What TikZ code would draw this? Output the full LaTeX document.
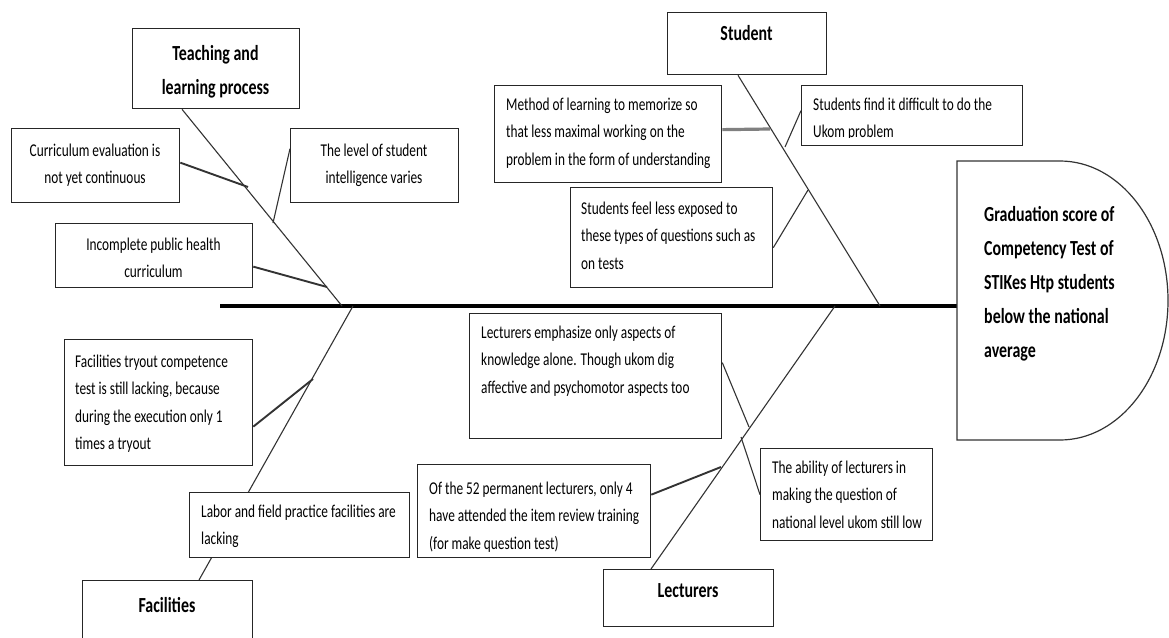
\documentclass[tikz,border=0pt]{standalone}
\usepackage{fontspec}
\setmainfont{Carlito}
\usetikzlibrary{calc}
\pgfdeclarelayer{background}
\pgfsetlayers{background,main}
\newcommand\sqz[1]{\scalebox{0.74}[1]{#1}}
\newcommand\tl[1]{\sqz{\begin{tabular}[t]{@{}l@{}}#1\end{tabular}}}
\newcommand\tc[1]{\sqz{\begin{tabular}[t]{@{}c@{}}#1\end{tabular}}}
\tikzset{
  box/.style={draw=black!85, line width=1.3pt, fill=white, inner sep=0pt, anchor=north west},
  body/.style={inner sep=0pt, text=black, font=\fontsize{18}{27.5}\selectfont},
  head/.style={inner sep=0pt, text=black, font=\bfseries\fontsize{21.5}{34}\selectfont},
  bone/.style={draw=black!80, line width=1.1pt},
  thin conn/.style={draw=black!80, line width=1.1pt},
  thick conn/.style={draw=black!80, line width=1.9pt},
  gray conn/.style={draw=black!50, line width=3.2pt},
}
\begin{document}
\begin{tikzpicture}[x=1pt,y=-1pt]
\useasboundingbox (0,0) rectangle (1169,637);
\clip (0,0) rectangle (1169,637);

% ---------- head ----------
\draw[draw=black!80, line width=1.2pt, fill=white]
  (957,161) -- (1060,161) arc[start angle=90, end angle=-90, x radius=108pt, y radius=139.5pt]
  -- (957,440) -- cycle;
\coordinate (headW) at (957,306);
\node[head, anchor=base west] (headtxt) at (984,221)
  {\sqz{\begin{tabular}[t]{@{}l@{}}Graduation score of\\Competency Test of\\STIKes Htp students\\below the national\\average\end{tabular}}};

% ---------- main category boxes ----------
\node[box, minimum width=167pt, minimum height=80pt] (tch) at (132,28) {};
\node[head, anchor=base] (tchT) at (215.5,60) {\tc{Teaching and\\learning process}};

\node[box, minimum width=159pt, minimum height=62pt] (stu) at (667,12) {};
\node[head, anchor=base] (stuT) at (746.5,40) {\sqz{Student}};

\node[box, minimum width=170pt, minimum height=80pt] (fac) at (82,580) {};
\node[head, anchor=base] (facT) at (167,612) {\sqz{Facilities}};

\node[box, minimum width=170pt, minimum height=57pt] (lec) at (603,569) {};
\node[head, anchor=base] (lecT) at (688,597) {\sqz{Lecturers}};

% ---------- cause boxes ----------
\node[box, minimum width=168pt, minimum height=74pt] (cur) at (11,128) {};
\node[body, anchor=base] (curT) at (95,156) {\tc{Curriculum evaluation is\\not yet continuous}};

\node[box, minimum width=168pt, minimum height=74pt] (lvl) at (290,128) {};
\node[body, anchor=base] (lvlT) at (374,156) {\tc{The level of student\\intelligence varies}};

\node[box, minimum width=197pt, minimum height=64pt] (inc) at (55,223) {};
\node[body, anchor=base] (incT) at (153.5,250) {\tc{Incomplete public health\\curriculum}};

\node[box, minimum width=227pt, minimum height=97pt] (met) at (494,85) {};
\node[body, anchor=base west] (metT) at (506,110) {\tl{Method of learning to memorize so\\that less maximal working on the\\problem in the form of understanding}};

\node[box, minimum width=221pt, minimum height=60pt] (fnd) at (801,85) {};
\begin{scope}
\clip (802,86) rectangle (1021,137.5);
\node[body, anchor=base west] (fndT) at (813,110) {\tl{Students find it difficult to do the\\Ukom problem}};
\end{scope}

\node[box, minimum width=202pt, minimum height=100pt] (fel) at (570,187) {};
\node[body, anchor=base west] (felT) at (581,214) {\tl{Students feel less exposed to\\these types of questions such as\\on tests}};

\node[box, minimum width=188pt, minimum height=126pt] (try) at (64,339) {};
\node[body, anchor=base west] (tryT) at (75,367) {\tl{Facilities tryout competence\\test is still lacking, because\\during the execution only 1\\times a tryout}};

\node[box, minimum width=220pt, minimum height=65pt] (lab) at (189,492) {};
\node[body, anchor=base west] (labT) at (201,517) {\tl{Labor and field practice facilities are\\lacking}};

\node[box, minimum width=252pt, minimum height=125pt] (emp) at (469,313) {};
\node[body, anchor=base west] (empT) at (481,338) {\tl{Lecturers emphasize only aspects of\\knowledge alone. Though ukom dig\\affective and psychomotor aspects too}};

\node[box, minimum width=233pt, minimum height=93pt] (o52) at (417,464) {};
\node[body, anchor=base west] (o52T) at (429,494) {\tl{Of the 52 permanent lecturers, only 4\\have attended the item review training\\(for make question test)}};

\node[box, minimum width=172pt, minimum height=92pt] (abl) at (760,448) {};
\node[body, anchor=base west] (ablT) at (772,473) {\tl{The ability of lecturers in\\making the question of\\national level ukom still low}};

% ---------- bone / spine coordinates ----------
\coordinate (tS) at (342,306);
\coordinate (sS) at (880,306);
\coordinate (fS) at (353,306);
\coordinate (lS) at (835,306);
\coordinate (b1) at (248,187);
\coordinate (b2) at (273,223);
\coordinate (b3) at (327,287);
\coordinate (b4) at (770,129);
\coordinate (b5) at (785,147);
\coordinate (b6) at (808,190);
\coordinate (b7) at (313,379);
\coordinate (b8) at (721,467);
\coordinate (b9) at (749,427);
\coordinate (b10) at (741,437);
\coordinate (spL) at (220,306);

\begin{pgfonlayer}{background}
% spine
\draw[draw=black, line width=4.5pt] (spL) -- (headW);
% bones
\draw[bone] ([xshift=50pt]tch.south west) -- (tS);
\draw[bone] ([xshift=71pt]stu.south west) -- (sS);
\draw[bone] ([xshift=117pt]fac.north west) -- (fS);
\draw[bone] ([xshift=48pt]lec.north west) -- (lS);
% connectors
\draw[thick conn] ([yshift=3pt]cur.east) -- (b1);
\draw[thin conn] ([yshift=17pt]lvl.west) -- (b2);
\draw[thick conn] ([yshift=-11pt]inc.east) -- (b3);
\draw[gray conn] ([yshift=4.5pt]met.east) -- (b4);
\draw[thin conn] ([yshift=5pt]fnd.west) -- (b5);
\draw[thin conn] ([yshift=-10pt]fel.east) -- (b6);
\draw[thick conn] ([yshift=-24pt]try.east) -- (b7);
\draw[thick conn] ([yshift=16.5pt]o52.east) -- (b8);
\draw[thin conn] ([yshift=13.5pt]emp.east) -- (b9);
\draw[thin conn] (abl.west) -- (b10);
\end{pgfonlayer}
\end{tikzpicture}
\end{document}
